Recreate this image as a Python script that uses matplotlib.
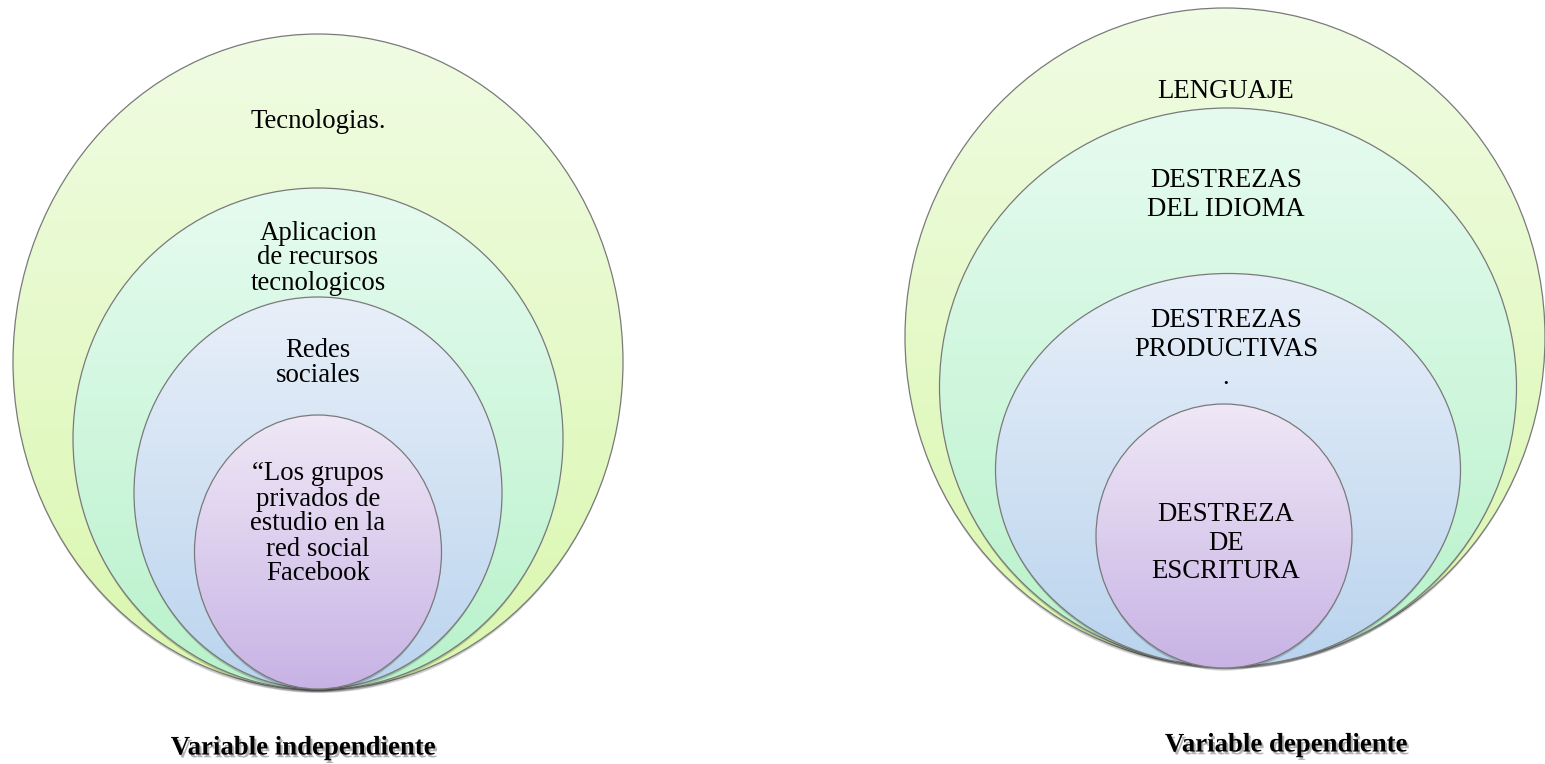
#!/usr/bin/env python3
"""Nested ellipse diagrams: independent vs dependent variable"""

import matplotlib.pyplot as plt
import matplotlib.patheffects as pe
import numpy as np
from matplotlib.colors import to_rgb
from matplotlib.patches import Ellipse

# text content, outermost ring first
LEFT_LABELS = [
    "Tecnologias.",
    "Aplicacion\nde recursos\ntecnologicos",
    "Redes\nsociales",
    "\u201cLos grupos\nprivados de\nestudio en la\nred social\nFacebook",
]
RIGHT_LABELS = [
    "LENGUAJE",
    "DESTREZAS\nDEL IDIOMA",
    "DESTREZAS\nPRODUCTIVAS\n.",
    "DESTREZA\nDE\nESCRITURA",
]
CAPTIONS = ["Variable independiente", "Variable dependiente"]

# layout in pixels (x, y from the top-left corner)
W, H = 1545, 764
LEFT_SHAPES = [  # cx, cy, w, h
    (318, 362, 610, 656),
    (318, 439, 490, 502),
    (318, 493, 368, 392),
    (318, 552, 247, 274),
]
RIGHT_SHAPES = [
    (1225, 337, 640, 658),
    (1228, 387, 577, 558),
    (1228, 470, 465, 393),
    (1224, 536, 256, 264),
]
LEFT_TEXT_Y = [121, 258, 363, 524]
RIGHT_TEXT_Y = [91, 195, 349, 543]
LEFT_TEXT_X, RIGHT_TEXT_X = 318, 1226
LEFT_LINE, RIGHT_LINE = 25.0, 28.5
CAPTION_POS = [(303, 748), (1286, 745)]

# top -> bottom gradient colours per ring
RING_COLORS = [
    ("#F0FCE3", "#DAF7AE"),
    ("#E6FBF0", "#B8F2CA"),
    ("#E8EFF9", "#BAD4EE"),
    ("#EFE8F6", "#C8B3E5"),
]
EDGE = "#7a7a7a"
FONT = "Liberation Serif"
FS = 19.3


def DrawRing(ax, cx, cy, w, h, top, bot, base):
    # soft drop shadow below the shape
    for k in range(5):
        sh = Ellipse((cx, cy + 2 + k * 0.8), w - k, h - k, facecolor="black",
                     edgecolor="none", alpha=0.045, zorder=base + 1)
        ax.add_patch(sh)
    patch = Ellipse((cx, cy), w, h, facecolor="none", edgecolor=EDGE,
                    linewidth=0.9, zorder=base + 3)
    ax.add_patch(patch)
    t = np.linspace(0, 1, 256)[:, None, None]
    c0 = np.array(to_rgb(top))[None, None, :]
    c1 = np.array(to_rgb(bot))[None, None, :]
    grad = c0 * (1 - t) + c1 * t
    im = ax.imshow(grad, extent=(cx - w / 2, cx + w / 2, cy + h / 2, cy - h / 2),
                   origin="upper", aspect="auto", zorder=base + 2,
                   interpolation="bilinear")
    im.set_clip_path(patch)


def DrawLabel(ax, x, yc, label, step):
    lines = label.split("\n")
    n = len(lines)
    for i, line in enumerate(lines):
        y = yc + (i - (n - 1) / 2) * step
        ax.text(x, y, line, ha="center", va="center", fontsize=FS,
                family=FONT, color="black", zorder=50)


def Main():
    fig = plt.figure(figsize=(W / 100, H / 100), dpi=100)
    ax = fig.add_axes([0, 0, 1, 1])
    ax.set_axis_off()

    # rings drawn outermost first so inner rings sit on top
    for shapes, labels, tx, ty, step in [
        (LEFT_SHAPES, LEFT_LABELS, LEFT_TEXT_X, LEFT_TEXT_Y, LEFT_LINE),
        (RIGHT_SHAPES, RIGHT_LABELS, RIGHT_TEXT_X, RIGHT_TEXT_Y, RIGHT_LINE),
    ]:
        for i, ((cx, cy, w, h), (top, bot)) in enumerate(zip(shapes, RING_COLORS)):
            DrawRing(ax, cx, cy, w, h, top, bot, i * 4)
        for label, y in zip(labels, ty):
            DrawLabel(ax, tx, y, label, step)

    shadow = [pe.SimplePatchShadow(offset=(1.5, -2), shadow_rgbFace="#555555", alpha=0.45),
              pe.Normal()]
    for text, (x, y) in zip(CAPTIONS, CAPTION_POS):
        ax.text(x, y, text, ha="center", va="center", fontsize=FS, family=FONT,
                fontweight="bold", color="black", zorder=60, path_effects=shadow)

    ax.set_xlim(0, W)
    ax.set_ylim(H, 0)
    fig.savefig("out.png", dpi=100, facecolor="white")
    plt.close(fig)


if __name__ == "__main__":
    Main()
